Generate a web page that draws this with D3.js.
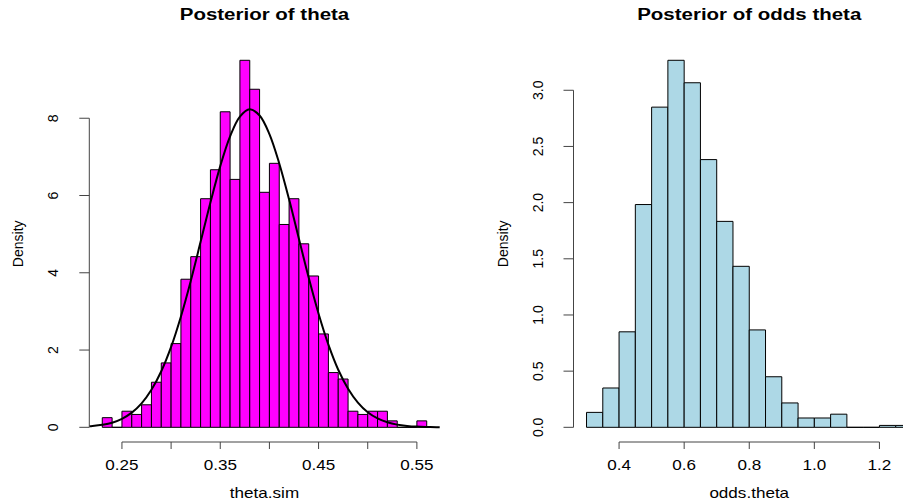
<!DOCTYPE html>
<html>
<head>
<meta charset="utf-8">
<script src="https://cdnjs.cloudflare.com/ajax/libs/d3/7.8.5/d3.min.js"></script>
<style>
  body { margin: 0; background: #fff; }
  text { font-family: "Liberation Sans", Arial, Helvetica, sans-serif; fill: #000; }
</style>
</head>
<body>
<div id="chart"></div>
<script>
// ---- data ----
// left: histogram of theta.sim (density), bins of 0.01
var thetaBreaks = [0.23,0.24,0.25,0.26,0.27,0.28,0.29,0.30,0.31,0.32,0.33,0.34,0.35,0.36,0.37,0.38,
                   0.39,0.40,0.41,0.42,0.43,0.44,0.45,0.46,0.47,0.48,0.49,0.50,0.51,0.52,0.53,0.54,0.55,0.56];
var thetaDensity = [0.25,0,0.417,0.333,0.583,1.167,1.667,2.167,3.833,4.417,5.917,6.667,8.167,6.417,9.5,8.75,
                    6.083,6.833,5.25,5.917,4.75,3.917,2.417,1.417,1.25,0.417,0.333,0.417,0.417,0.167,0,0,0.167];
// overlaid density curve
var curveX = [0.2168,0.22,0.23,0.24,0.25,0.26,0.27,0.28,0.29,0.30,0.31,0.32,0.33,0.34,0.35,0.36,0.37,0.38,
              0.39,0.40,0.41,0.42,0.43,0.44,0.45,0.46,0.47,0.48,0.49,0.50,0.51,0.52,0.53,0.54,0.55,0.56,0.57,0.5732];
var curveY = [0.028,0.035,0.067,0.12,0.22,0.38,0.62,0.97,1.45,2.08,2.87,3.79,4.80,5.82,6.76,7.53,8.04,8.23,
              8.07,7.59,6.83,5.90,4.88,3.87,2.94,2.14,1.49,1.00,0.64,0.39,0.23,0.13,0.07,0.037,0.018,0.009,0.004,0.003];
var thetaXTicks = [0.25,0.30,0.35,0.40,0.45,0.50,0.55];
var thetaXLabels = ["0.25","","0.35","","0.45","","0.55"];
var thetaYTicks = [0,2,4,6,8];
var thetaYLabels = ["0","2","4","6","8"];

// right: histogram of odds.theta (density), bins of 0.05
var oddsBreaks = [0.30,0.35,0.40,0.45,0.50,0.55,0.60,0.65,0.70,0.75,0.80,0.85,0.90,0.95,1.00,1.05,1.10,1.15,1.20,1.25,1.30];
var oddsDensity = [0.133,0.35,0.85,1.983,2.85,3.267,3.067,2.383,1.833,1.433,0.867,0.45,0.217,0.083,0.083,0.117,0,0,0.017,0.017];
var oddsXTicks = [0.4,0.6,0.8,1.0,1.2];
var oddsXLabels = ["0.4","0.6","0.8","1.0","1.2"];
var oddsYTicks = [0,0.5,1.0,1.5,2.0,2.5,3.0];
var oddsYLabels = ["0.0","0.5","1.0","1.5","2.0","2.5","3.0"];

const width = 903, height = 504;
const plotTop = 45.6, plotBottom = 442;
const sx = 1.22;       // text looks stretched sideways
const fs = 14;

var svg = d3.select("#chart").append("svg")
    .attr("width", width).attr("height", height);

function htext(g, x, y, str, size, weight) {
  g.append("text")
    .attr("transform", "translate(" + x + "," + y + ") scale(" + sx + ",1)")
    .attr("text-anchor", "middle")
    .attr("font-size", size)
    .attr("font-weight", weight || "normal")
    .text(str);
}
function vtext(g, x, y, str, size) {
  g.append("text")
    .attr("transform", "translate(" + x + "," + y + ") rotate(-90)")
    .attr("text-anchor", "middle")
    .attr("font-size", size)
    .text(str);
}

function panel(o) {
  var g = svg.append("g");
  var lo = o.breaks[0], hi = o.breaks[o.breaks.length - 1];
  var pad = (hi - lo) * 0.04;
  var ymax = d3.max(o.density);
  var x = d3.scaleLinear().domain([lo - pad, hi + pad]).range([o.left, o.right]);
  var y = d3.scaleLinear().domain([-0.04 * ymax, 1.04 * ymax]).range([plotBottom, plotTop]);

  // bars (path so empty bins still show as a line)
  g.selectAll("path.bar")
    .data(o.density)
    .enter().append("path")
    .attr("class", "bar")
    .attr("d", function(d, i) {
      var x0 = x(o.breaks[i]), x1 = x(o.breaks[i + 1]);
      return "M" + x0 + "," + y(0) + "V" + y(d) + "H" + x1 + "V" + y(0) + "Z";
    })
    .attr("fill", o.fill)
    .attr("stroke", "#000")
    .attr("stroke-width", 1);

  if (o.curveX) {
    var line = d3.line()
      .x(function(d, i) { return x(o.curveX[i]); })
      .y(function(d) { return y(d); })
      .curve(d3.curveCatmullRom);
    g.append("path")
      .datum(o.curveY)
      .attr("d", line)
      .attr("fill", "none")
      .attr("stroke", "#000")
      .attr("stroke-width", 2);
  }

  // x axis
  var ax = g.append("g").attr("stroke", "#444").attr("stroke-width", 1);
  ax.append("line")
    .attr("x1", x(o.xTicks[0])).attr("x2", x(o.xTicks[o.xTicks.length - 1]))
    .attr("y1", plotBottom).attr("y2", plotBottom);
  ax.selectAll("line.t").data(o.xTicks).enter().append("line")
    .attr("x1", function(d) { return x(d); }).attr("x2", function(d) { return x(d); })
    .attr("y1", plotBottom).attr("y2", plotBottom + 7);
  o.xTicks.forEach(function(d, i) {
    if (o.xLabels[i]) htext(g, x(d), 470, o.xLabels[i], fs);
  });

  // y axis
  var ay = g.append("g").attr("stroke", "#444").attr("stroke-width", 1);
  ay.append("line")
    .attr("x1", o.left).attr("x2", o.left)
    .attr("y1", y(o.yTicks[0])).attr("y2", y(o.yTicks[o.yTicks.length - 1]));
  ay.selectAll("line.t").data(o.yTicks).enter().append("line")
    .attr("x1", o.left - 10).attr("x2", o.left)
    .attr("y1", function(d) { return y(d); }).attr("y2", function(d) { return y(d); });
  o.yTicks.forEach(function(d, i) {
    vtext(g, o.left - 31, y(d), o.yLabels[i], fs);
  });

  // titles
  var cx = (o.left + o.right) / 2;
  htext(g, cx, 20, o.title, 16.8, "bold");
  htext(g, cx, 498, o.xlab, fs);
  vtext(g, o.left - 66, (plotTop + plotBottom) / 2, "Density", fs);
}

panel({
  left: 89.3, right: 439.7,
  breaks: thetaBreaks, density: thetaDensity, fill: "#FF00FF",
  curveX: curveX, curveY: curveY,
  xTicks: thetaXTicks, xLabels: thetaXLabels,
  yTicks: thetaYTicks, yLabels: thetaYLabels,
  title: "Posterior of theta", xlab: "theta.sim"
});

panel({
  left: 573.5, right: 925,
  breaks: oddsBreaks, density: oddsDensity, fill: "#ADD8E6",
  xTicks: oddsXTicks, xLabels: oddsXLabels,
  yTicks: oddsYTicks, yLabels: oddsYLabels,
  title: "Posterior of odds theta", xlab: "odds.theta"
});
</script>
</body>
</html>
